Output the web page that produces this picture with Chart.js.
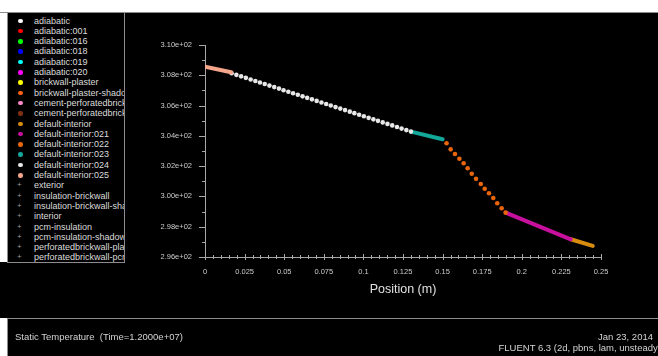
<!DOCTYPE html>
<html>
<head>
<meta charset="utf-8">
<script src="https://cdn.jsdelivr.net/npm/chart.js@4"></script>
<style>
html,body{margin:0;padding:0;}
body{width:658px;height:356px;background:#000;position:relative;overflow:hidden;font-family:"Liberation Sans",Arial,sans-serif;}
#c{position:absolute;left:0;top:0;}
.strip{position:absolute;background:#fff;}
#topline{position:absolute;left:0;top:12px;width:658px;height:1px;background:#8c8c8c;}
#legend{position:absolute;left:7px;top:12px;width:116px;height:249px;border:1px solid #8c8c8c;background:#000;overflow:hidden;}
.row{position:absolute;left:0;height:10px;width:200px;}
.mk{position:absolute;left:10px;top:3px;width:4.5px;height:4.5px;border-radius:50%;}
.plus{position:absolute;left:9px;top:0px;font-size:8px;line-height:10px;color:#9a9a9a;}
.lt{position:absolute;left:26px;top:0;font-size:9px;line-height:10px;color:#dcdcdc;white-space:nowrap;}
#bottom{position:absolute;left:7px;top:318px;width:660px;height:40px;border-top:1px solid #8c8c8c;border-left:1px solid #8c8c8c;}
.bt{position:absolute;font-size:9.5px;line-height:11px;color:#d4d4d4;white-space:nowrap;}
</style>
</head>
<body>
<div class="strip" style="left:0;top:0;width:658px;height:12px;"></div>
<div class="strip" style="left:0;top:12px;width:7px;height:250px;"></div>
<div class="strip" style="left:0;top:318px;width:7px;height:38px;"></div>
<div id="topline"></div>
<canvas id="c" width="658" height="356"></canvas>
<div id="legend"></div>
<div id="bottom"></div>
<div class="bt" style="left:15px;top:331px;">Static Temperature&nbsp; (Time=1.2000e+07)</div>
<div class="bt" style="right:5px;top:331px;">Jan 23, 2014</div>
<div class="bt" style="right:-3px;top:342px;">FLUENT 6.3 (2d, pbns, lam, unsteady)</div>
<script>
// ---- data ----
const xTicks = [0, 0.025, 0.05, 0.075, 0.1, 0.125, 0.15, 0.175, 0.2, 0.225, 0.25];
const xTickLabels = ['0', '0.025', '0.05', '0.075', '0.1', '0.125', '0.15', '0.175', '0.2', '0.225', '0.25'];
const yTicks = [296, 298, 300, 302, 304, 306, 308, 310];
const yTickLabels = ['2.96e+02', '2.98e+02', '3.00e+02', '3.02e+02', '3.04e+02', '3.06e+02', '3.08e+02', '3.10e+02'];

const legendNames = ['adiabatic','adiabatic:001','adiabatic:016','adiabatic:018','adiabatic:019','adiabatic:020',
  'brickwall-plaster','brickwall-plaster-shadow','cement-perforatedbrick','cement-perforatedbrick-shadow',
  'default-interior','default-interior:021','default-interior:022','default-interior:023','default-interior:024',
  'default-interior:025','exterior','insulation-brickwall','insulation-brickwall-shadow','interior',
  'pcm-insulation','pcm-insulation-shadow','perforatedbrickwall-plaster','perforatedbrickwall-pcm'];
const legendColors = ['#ffffff','#ff0000','#00ff00','#0000ff','#00ffff','#ff00ff','#ffff00','#ff6010','#ff88c8','#803010',
  '#d88c10','#c8109e','#e8650c','#14a89a','#e8e8e8','#f4a58a',
  '#9a9a9a','#9a9a9a','#9a9a9a','#9a9a9a','#9a9a9a','#9a9a9a','#9a9a9a','#9a9a9a'];

// default-interior:025 (salmon)
const z025X = [0, 0.0165];
const z025T = [308.57, 308.20];
// default-interior:024 (white dots)
const z024X = [0.0168,0.0198,0.0228,0.0258,0.0288,0.0318,0.0347,0.0377,0.0407,0.0437,0.0467,0.0496,0.0526,0.0556,
  0.0586,0.0616,0.0645,0.0675,0.0705,0.0735,0.0765,0.0794,0.0824,0.0854,0.0884,0.0914,0.0943,0.0973,0.1003,0.1033,
  0.1063,0.1092,0.1122,0.1152,0.1182,0.1212,0.1241,0.1271,0.1300];
const z024T = [308.13,308.03,307.93,307.83,307.72,307.62,307.52,307.42,307.32,307.22,307.12,307.01,306.91,306.81,
  306.71,306.61,306.51,306.41,306.31,306.20,306.10,306.00,305.90,305.80,305.70,305.60,305.50,305.39,305.29,305.19,
  305.09,304.99,304.89,304.79,304.69,304.58,304.48,304.38,304.28];
// default-interior:023 (teal)
const z023X = [0.1300, 0.1500];
const z023T = [304.28, 303.78];
// default-interior:022 (orange dots)
const z022X = [0.1525,0.1551,0.1578,0.1606,0.1633,0.1658,0.1684,0.1711,0.1741,0.1766,0.1793,0.1820,0.1845,0.1873,0.1898];
const z022T = [303.51,303.11,302.80,302.49,302.19,301.86,301.50,301.16,300.82,300.51,300.21,299.90,299.55,299.22,298.93];
// default-interior:021 (magenta)
const z021X = [0.1898, 0.2309];
const z021T = [298.93, 297.17];
// default-interior (amber)
const zdiX = [0.2309, 0.2448];
const zdiT = [297.17, 296.73];

const xMinorStep = 0.005;
const yMinorStep = 1;

// ---- legend (HTML) ----
const lg = document.getElementById('legend');
legendNames.forEach((n, i) => {
  const r = document.createElement('div');
  r.className = 'row';
  r.style.top = (2.5 + i * 10.3) + 'px';
  if (i < 16) {
    const m = document.createElement('div'); m.className = 'mk'; m.style.background = legendColors[i]; r.appendChild(m);
  } else {
    const m = document.createElement('div'); m.className = 'plus'; m.textContent = '+'; m.style.color = legendColors[i]; r.appendChild(m);
  }
  const t = document.createElement('div'); t.className = 'lt'; t.textContent = n; r.appendChild(t);
  lg.appendChild(r);
});

// ---- chart ----
const pts = (xs, ys) => xs.map((x, i) => ({x: x, y: ys[i]}));
const FONT = '"Liberation Sans", Arial, sans-serif';

const tickPlugin = {
  id: 'fluentTicks',
  afterDraw(chart) {
    const {ctx, chartArea: a} = chart;
    const xs = chart.scales.x, ys = chart.scales.y;
    ctx.save();
    ctx.strokeStyle = '#a8a8a8';
    ctx.lineWidth = 1;
    ctx.beginPath();
    for (let k = 0; k <= Math.round((ys.max - ys.min) / yMinorStep); k++) {
      const v = ys.min + k * yMinorStep;
      const py = Math.round(ys.getPixelForValue(v)) + 0.5;
      const len = yTicks.indexOf(v) >= 0 ? 6 : 3;
      ctx.moveTo(a.left - len, py); ctx.lineTo(a.left, py);
    }
    for (let k = 0; k <= Math.round((xs.max - xs.min) / xMinorStep); k++) {
      const v = xs.min + k * xMinorStep;
      const px = Math.round(xs.getPixelForValue(v)) + 0.5;
      const len = (k % 5 === 0) ? 3 : 2;
      ctx.moveTo(px, a.bottom - len); ctx.lineTo(px, a.bottom + len);
    }
    ctx.stroke();
    ctx.restore();
  }
};

const lineDs = (label, data, color) => ({label, data, showLine: true, borderColor: color, backgroundColor: color,
  borderWidth: 4, pointRadius: 0, borderCapStyle: 'round'});
const dotDs = (label, data, color) => ({label, data, showLine: false, backgroundColor: color, borderWidth: 0, pointRadius: 2.3});

new Chart(document.getElementById('c'), {
  type: 'scatter',
  data: {
    datasets: [
      lineDs('default-interior:025', pts(z025X, z025T), '#f4a58a'),
      dotDs('default-interior:024', pts(z024X, z024T), '#e8e8e8'),
      lineDs('default-interior:023', pts(z023X, z023T), '#14a89a'),
      dotDs('default-interior:022', pts(z022X, z022T), '#e8650c'),
      lineDs('default-interior:021', pts(z021X, z021T), '#c8109e'),
      lineDs('default-interior', pts(zdiX, zdiT), '#d88c10')
    ]
  },
  options: {
    responsive: false,
    devicePixelRatio: 1,
    animation: false,
    layout: {padding: {top: 45, right: 57, bottom: 58.6, left: 0}},
    plugins: {legend: {display: false}, tooltip: {enabled: false}},
    scales: {
      x: {
        type: 'linear', min: 0, max: 0.25,
        afterBuildTicks: s => { s.ticks = xTicks.map(v => ({value: v})); },
        afterFit: s => { s.height = 40.4; },
        ticks: {callback: (v, i) => xTickLabels[i], color: '#cccccc', font: {size: 7.5, family: FONT}, padding: 10, maxRotation: 0, autoSkip: false},
        grid: {display: false, drawTicks: false},
        border: {display: true, color: '#a8a8a8', width: 1},
        title: {display: true, text: 'Position (m)', color: '#e0e0e0', font: {size: 12.5, family: FONT}, padding: {top: 3, bottom: 0}}
      },
      y: {
        type: 'linear', min: 296, max: 310,
        afterBuildTicks: s => { s.ticks = yTicks.map(v => ({value: v})); },
        afterFit: s => { s.width = 205; },
        ticks: {callback: (v, i) => yTickLabels[i], color: '#cccccc', font: {size: 7.5, family: FONT}, padding: 13, autoSkip: false},
        grid: {display: false, drawTicks: false},
        border: {display: true, color: '#a8a8a8', width: 1}
      }
    }
  },
  plugins: [tickPlugin]
});
</script>
</body>
</html>
